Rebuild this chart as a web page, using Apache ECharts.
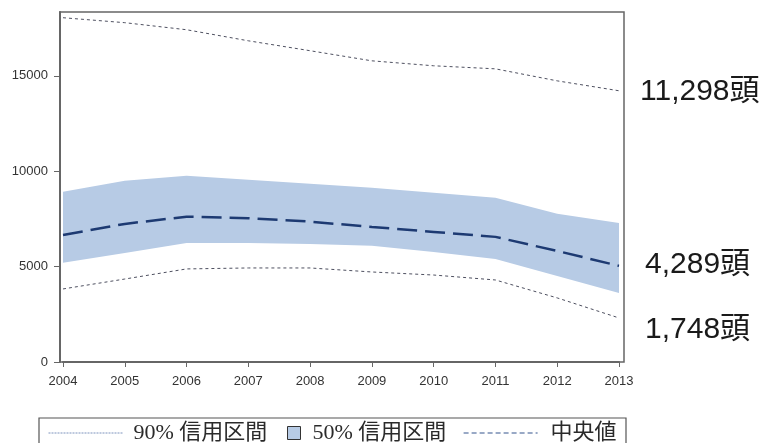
<!DOCTYPE html>
<html>
<head>
<meta charset="utf-8">
<script src="https://cdn.jsdelivr.net/npm/echarts@6/dist/echarts.min.js"></script>
<style>
  html, body { margin: 0; padding: 0; background: #fff; }
  #chart { width: 770px; height: 443px; }
</style>
</head>
<body>
<div id="chart"></div>
<script>
// Estimated herd size per year: median with 50% and 90% credible intervals
const years   = ['2004', '2005', '2006', '2007', '2008', '2009', '2010', '2011', '2012', '2013'];
const upper90 = [18050, 17790, 17420, 16840, 16320, 15790, 15530, 15370, 14740, 14220];
const upper50 = [8920, 9500, 9760, 9550, 9340, 9130, 8870, 8610, 7770, 7290];
const median  = [6660, 7240, 7620, 7540, 7360, 7080, 6820, 6560, 5820, 5040];
const lower50 = [5200, 5720, 6240, 6240, 6190, 6090, 5770, 5400, 4510, 3620];
const lower90 = [3830, 4350, 4880, 4930, 4930, 4720, 4560, 4300, 3360, 2310];

// Side annotations
const noteTexts = ['11,298頭', '4,289頭', '1,748頭'];

const NAME90 = '90% 信用区間';
const NAME50 = '50% 信用区間';
const NAMEMED = '中央値';

const band50 = upper50.map((v, i) => v - lower50[i]);

const serif = "'Liberation Serif', 'DejaVu Serif', 'Noto Sans CJK JP', serif";
const sans = "'Liberation Sans', Arial, 'Noto Sans CJK JP', sans-serif";
const legendText = { fontFamily: serif, fontSize: 22, color: '#2a2a2a' };
const noteStyle = { fontFamily: sans, fontSize: 30, fill: '#1a1a1a', verticalAlign: 'middle' };
const hiddenSymbol = { color: 'rgba(0,0,0,0)', borderWidth: 0, opacity: 0 };

const chart = echarts.init(document.getElementById('chart'), null, { renderer: 'canvas' });

chart.setOption({
  animation: false,
  backgroundColor: '#fff',
  grid: { left: 63, right: 151, top: 12, bottom: 81 },
  xAxis: {
    type: 'category',
    data: years,
    boundaryGap: false,
    axisLine: { lineStyle: { color: '#666', width: 2 } },
    axisTick: { alignWithLabel: true, length: 5, lineStyle: { color: '#666', width: 1 } },
    axisLabel: { fontFamily: sans, fontSize: 13, color: '#333', margin: 13 },
    splitLine: { show: false }
  },
  yAxis: {
    type: 'value',
    min: 0,
    max: 18350,
    interval: 5000,
    offset: 3,
    axisLine: { show: true, lineStyle: { color: '#666', width: 2 } },
    axisTick: { show: true, length: 6, lineStyle: { color: '#666', width: 1 } },
    axisLabel: {
      fontFamily: sans, fontSize: 13, color: '#333', margin: 12, showMaxLabel: false,
      formatter: v => String(v)
    },
    splitLine: { show: false }
  },
  legend: [
    {
      data: [NAME90], left: 48, top: 422, padding: 0,
      itemWidth: 74, itemHeight: 14,
      itemStyle: hiddenSymbol,
      lineStyle: { color: '#7d93bd', type: [2, 1], width: 1, opacity: 1 },
      textStyle: Object.assign({ padding: [0, 0, 0, 6] }, legendText),
      selectedMode: false
    },
    {
      data: [NAME50], left: 287, top: 422, padding: 0,
      itemWidth: 13, itemHeight: 13, icon: 'rect',
      itemStyle: { color: '#b7cbe5', borderColor: '#333', borderWidth: 1 },
      textStyle: Object.assign({ padding: [0, 0, 0, 7] }, legendText),
      selectedMode: false
    },
    {
      data: [NAMEMED], left: 463, top: 422, padding: 0,
      itemWidth: 74, itemHeight: 14,
      itemStyle: hiddenSymbol,
      lineStyle: { color: '#34548e', type: [5, 3], width: 1.2, opacity: 1 },
      textStyle: Object.assign({ padding: [0, 0, 0, 8] }, legendText),
      selectedMode: false
    }
  ],
  graphic: [
    {
      type: 'rect', silent: true, z: 0,
      shape: { x: 60, y: 12, width: 564, height: 350 },
      style: { fill: 'none', stroke: '#666', lineWidth: 1.5 }
    },
    {
      type: 'rect', silent: true, z: 0,
      shape: { x: 39, y: 418, width: 587, height: 40 },
      style: { fill: 'none', stroke: '#555', lineWidth: 1.2 }
    },
    { type: 'text', x: 640, y: 92, style: Object.assign({ text: noteTexts[0] }, noteStyle) },
    { type: 'text', x: 645, y: 265, style: Object.assign({ text: noteTexts[1] }, noteStyle) },
    { type: 'text', x: 645, y: 330, style: Object.assign({ text: noteTexts[2] }, noteStyle) }
  ],
  series: [
    {
      name: '50%下限',
      type: 'line',
      data: lower50,
      stack: 'band50',
      symbol: 'none',
      silent: true,
      lineStyle: { opacity: 0 },
      z: 1
    },
    {
      name: NAME50,
      type: 'line',
      data: band50,
      stack: 'band50',
      symbol: 'none',
      silent: true,
      lineStyle: { opacity: 0 },
      itemStyle: { color: '#b7cbe5' },
      areaStyle: { color: '#b7cbe5', opacity: 1 },
      z: 1
    },
    {
      name: NAME90,
      type: 'line',
      data: upper90,
      symbol: 'none',
      lineStyle: { color: '#4e5060', width: 1, type: [3, 3] },
      z: 2
    },
    {
      name: NAME90,
      type: 'line',
      data: lower90,
      symbol: 'none',
      lineStyle: { color: '#4e5060', width: 1, type: [3, 3] },
      z: 2
    },
    {
      name: NAMEMED,
      type: 'line',
      data: median,
      symbol: 'none',
      lineStyle: { color: '#1d3a72', width: 2.5, type: [20, 8] },
      z: 3
    }
  ]
});
</script>
</body>
</html>
